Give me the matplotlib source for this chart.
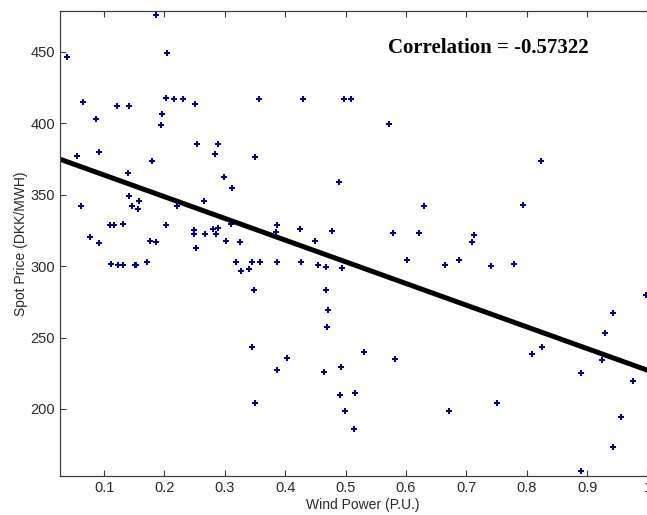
import numpy as np
import matplotlib
matplotlib.use('Agg')
import matplotlib.pyplot as plt

# wind power (p.u.) vs spot price (DKK/MWH)
wind = [0.0384, 0.1865, 0.2039, 0.0653, 0.0858, 0.1216, 0.1418, 0.2024, 0.2153, 0.2302,
        0.2511, 0.1954, 0.1935, 0.0548, 0.0908, 0.1786, 0.2536, 0.2879, 0.2839, 0.1388,
        0.0613, 0.1418, 0.1458, 0.1567, 0.1577, 0.2213, 0.2660, 0.1095, 0.1166, 0.1318,
        0.2024, 0.0762, 0.0911, 0.1766, 0.1855, 0.2486, 0.2486, 0.2519, 0.2670, 0.2806,
        0.2879, 0.2859, 0.1110, 0.1232, 0.1320, 0.1509, 0.1525, 0.1713,
        0.3564, 0.4300, 0.4966, 0.5085, 0.5716, 0.3495, 0.2978, 0.3115, 0.4896,
        0.3097, 0.3018, 0.3256, 0.3863, 0.3853, 0.4240, 0.4486, 0.4777, 0.5790, 0.6213,
        0.6009, 0.8235, 0.6297, 0.7937, 0.7122, 0.7102, 0.6884,
        0.3182, 0.3266, 0.3392, 0.3455, 0.3579, 0.3863, 0.4260, 0.4548, 0.4677, 0.4946,
        0.3475, 0.4672, 0.4707, 0.4687, 0.3442, 0.4022, 0.5304, 0.5820, 0.3872, 0.4638,
        0.4926, 0.4911, 0.5155, 0.3495, 0.4995, 0.5135,
        0.6645, 0.7410, 0.7788, 0.9428, 0.9294, 0.8086, 0.8250, 0.9244, 0.8901, 0.9753,
        0.7500, 0.6710, 0.9564, 0.9428, 0.8901, 0.9984]
price = [446.1, 475.7, 448.9, 415.0, 402.9, 412.0, 412.0, 417.8, 417.1, 417.1,
         413.4, 406.4, 398.4, 376.7, 379.5, 373.2, 385.4, 385.4, 378.1, 365.3,
         341.9, 349.3, 342.1, 339.8, 345.5, 342.1, 345.2, 329.1, 329.1, 329.8,
         329.1, 320.4, 316.2, 317.6, 317.1, 325.1, 322.8, 312.5, 322.8, 326.1,
         327.0, 322.7, 301.7, 300.8, 300.8, 300.8, 300.9, 303.0,
         417.1, 417.1, 417.1, 417.1, 399.2, 376.0, 362.2, 354.3, 358.5,
         329.8, 317.6, 316.7, 329.1, 323.9, 326.1, 317.6, 324.6, 323.2, 323.3,
         304.0, 373.7, 341.9, 342.9, 321.8, 316.7, 304.0,
         302.9, 296.4, 298.0, 302.9, 302.9, 302.9, 302.9, 300.8, 299.4, 298.7,
         283.1, 283.1, 269.1, 257.7, 243.2, 236.0, 239.7, 235.3, 227.3, 225.7,
         229.7, 210.1, 211.5, 204.2, 198.4, 186.3,
         300.8, 300.1, 301.8, 267.0, 253.2, 238.8, 243.2, 234.6, 225.0, 219.4,
         204.2, 198.4, 194.2, 173.2, 156.6, 279.9]

# regression line
fit_intercept = 378.9
fit_slope = -151.8
correlation = -0.57322

x_ticks = [0.1, 0.2, 0.3, 0.4, 0.5, 0.6, 0.7, 0.8, 0.9, 1.0]
x_tick_labels = ['0.1', '0.2', '0.3', '0.4', '0.5', '0.6', '0.7', '0.8', '0.9', '1']
y_ticks = [200, 250, 300, 350, 400, 450]

plt.rcParams['font.family'] = ['Liberation Sans', 'DejaVu Sans']

fig = plt.figure(figsize=(6.47, 5.15), dpi=100)
# axes run past the right edge, as in the cropped original
ax = fig.add_axes([0.0935, 0.0763, 0.9352, 0.9023])
ax.set_xlim(0.0278, 1.03)
ax.set_ylim(153.3, 478.5)

ax.plot(wind, price, linestyle='none', marker='P', markersize=5,
        color='#00008B', markeredgewidth=0)

x_fit = np.array(ax.get_xlim())
ax.plot(x_fit, fit_intercept + fit_slope * x_fit, color='black', linewidth=3.6,
        solid_capstyle='butt')

ax.text(0.570, 452.8, f'Correlation = {correlation:.5f}', family='Liberation Serif',
        fontweight='bold', fontsize=15, ha='left', va='center')

ax.set_xticks(x_ticks)
ax.set_xticklabels(x_tick_labels)
ax.set_yticks(y_ticks)
ax.tick_params(direction='in', length=4, width=0.8, labelsize=10.5, colors='#3a3a3a',
               labelcolor='#2a2a2a', top=True, right=True, pad=4)
for s in ax.spines.values():
    s.set_color('#404040')
    s.set_linewidth(0.9)

ax.set_xlabel('Wind Power (P.U.)', fontsize=10, color='#2a2a2a', labelpad=2)
ax.set_ylabel('Spot Price (DKK/MWH)', fontsize=10, color='#2a2a2a', labelpad=2)

fig.savefig('out.png', dpi=100)
